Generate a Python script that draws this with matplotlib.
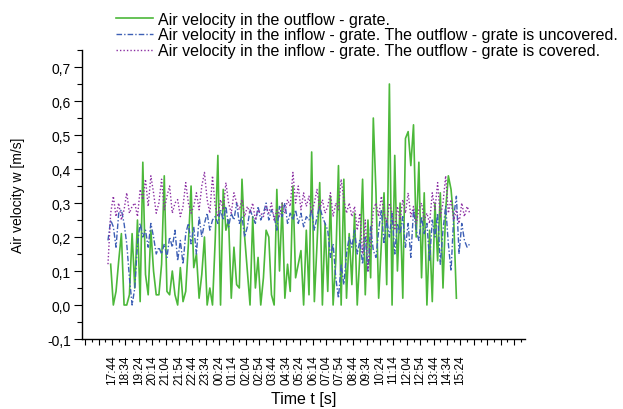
import numpy as np
import matplotlib
matplotlib.use("Agg")
import matplotlib.pyplot as plt
from matplotlib.ticker import FuncFormatter, MultipleLocator

plt.rcParams['font.family'] = ['Liberation Sans', 'DejaVu Sans']

# time axis: minutes after 17:44, samples every 10 min
STEP = 10
GREEN_START = -5
INFLOW_START = -15

tick_labels = ['17:44', '18:34', '19:24', '20:14', '21:04', '21:54', '22:44',
               '23:34', '00:24', '01:14', '02:04', '02:54', '03:44', '04:34',
               '05:24', '06:14', '07:04', '07:54', '08:44', '09:34', '10:24',
               '11:14', '12:04', '12:54', '13:44', '14:34', '15:24']

# Air velocity in the outflow - grate
outflow = [
    0.12, 0.00, 0.04, 0.13, 0.21, 0.00, 0.00, 0.03, 0.21, 0.05,
    0.25, 0.01, 0.42, 0.09, 0.03, 0.22, 0.10, 0.03, 0.03, 0.12,
    0.38, 0.04, 0.03, 0.10, 0.03, 0.00, 0.11, 0.01, 0.04, 0.18,
    0.35, 0.11, 0.15, 0.02, 0.09, 0.20, 0.00, 0.05, 0.00, 0.19,
    0.44, 0.00, 0.34, 0.22, 0.25, 0.02, 0.17, 0.06, 0.05, 0.37,
    0.20, 0.10, 0.00, 0.26, 0.05, 0.14, 0.00, 0.08, 0.22, 0.20,
    0.03, 0.00, 0.34, 0.10, 0.30, 0.02, 0.12, 0.04, 0.35, 0.08,
    0.12, 0.16, 0.00, 0.22, 0.03, 0.45, 0.01, 0.18, 0.36, 0.00,
    0.24, 0.04, 0.32, 0.00, 0.13, 0.41, 0.00, 0.37, 0.02, 0.21,
    0.06, 0.27, 0.00, 0.15, 0.37, 0.03, 0.25, 0.08, 0.55, 0.33,
    0.02, 0.18, 0.33, 0.06, 0.65, 0.00, 0.44, 0.10, 0.30, 0.02,
    0.49, 0.51, 0.41, 0.53, 0.20, 0.42, 0.08, 0.33, 0.00, 0.22,
    0.01, 0.30, 0.13, 0.33, 0.05, 0.28, 0.38, 0.34, 0.25, 0.02,
]

# Air velocity in the inflow - grate, outflow uncovered
inflow_open = [
    0.19, 0.25, 0.23, 0.17, 0.27, 0.28, 0.24, 0.18, 0.08, 0.00,
    0.05, 0.18, 0.24, 0.20, 0.22, 0.17, 0.24, 0.20, 0.15, 0.17,
    0.15, 0.18, 0.14, 0.20, 0.17, 0.22, 0.13, 0.19, 0.12, 0.21,
    0.24, 0.18, 0.23, 0.15, 0.26, 0.20, 0.24, 0.27, 0.22, 0.25,
    0.26, 0.24, 0.28, 0.25, 0.29, 0.23, 0.27, 0.25, 0.30, 0.24,
    0.26, 0.20, 0.23, 0.28, 0.26, 0.24, 0.29, 0.25, 0.27, 0.30,
    0.25, 0.28, 0.26, 0.22, 0.29, 0.26, 0.30, 0.24, 0.27, 0.25,
    0.28, 0.24, 0.27, 0.23, 0.26, 0.25, 0.28, 0.22, 0.26, 0.29,
    0.26, 0.24, 0.22, 0.14, 0.18, 0.08, 0.02, 0.12, 0.06, 0.15,
    0.20, 0.17, 0.22, 0.15, 0.19, 0.12, 0.20, 0.10, 0.23, 0.16,
    0.14, 0.22, 0.28, 0.18, 0.25, 0.20, 0.27, 0.15, 0.24, 0.21,
    0.26, 0.17, 0.24, 0.14, 0.28, 0.22, 0.19, 0.26, 0.21, 0.24,
    0.13, 0.25, 0.20, 0.27, 0.12, 0.22, 0.29, 0.18, 0.10, 0.26,
    0.32, 0.15, 0.24, 0.19, 0.17, 0.18,
]

# Air velocity in the inflow - grate, outflow covered
inflow_closed = [
    0.12, 0.27, 0.32, 0.26, 0.30, 0.25, 0.28, 0.33, 0.27, 0.29,
    0.30, 0.26, 0.34, 0.31, 0.37, 0.29, 0.38, 0.33, 0.27, 0.30,
    0.37, 0.28, 0.32, 0.35, 0.27, 0.30, 0.31, 0.26, 0.29, 0.36,
    0.30, 0.27, 0.29, 0.33, 0.28, 0.35, 0.39, 0.31, 0.27, 0.38,
    0.29, 0.26, 0.31, 0.28, 0.36, 0.30, 0.27, 0.33, 0.30, 0.28,
    0.31, 0.26, 0.29, 0.27, 0.30, 0.25, 0.28, 0.27, 0.26, 0.29,
    0.27, 0.30, 0.25, 0.28, 0.26, 0.30, 0.27, 0.31, 0.29, 0.39,
    0.30, 0.35, 0.28, 0.33, 0.29, 0.32, 0.27, 0.30, 0.34, 0.28,
    0.31, 0.27, 0.29, 0.33, 0.26, 0.30, 0.28, 0.37, 0.31, 0.27,
    0.30, 0.26, 0.29, 0.22, 0.27, 0.15, 0.25, 0.10, 0.18, 0.28,
    0.30, 0.26, 0.32, 0.27, 0.24, 0.30, 0.27, 0.22, 0.29, 0.25,
    0.31, 0.27, 0.33, 0.26, 0.29, 0.24, 0.28, 0.30, 0.25, 0.27,
    0.24, 0.33, 0.28, 0.36, 0.26, 0.30, 0.38, 0.27, 0.31, 0.25,
    0.28, 0.24, 0.30, 0.26, 0.29, 0.27,
]

t_out = GREEN_START + STEP * np.arange(len(outflow))
t_in = INFLOW_START + STEP * np.arange(len(inflow_open))

fig = plt.figure(figsize=(6.23, 4.10), dpi=100)
ax = fig.add_axes([0.1316, 0.1707, 0.7111, 0.7049])

ax.plot(t_out, outflow, color='#4cb83a', lw=1.2,
        label='Air velocity in the outflow - grate.')
ax.plot(t_in, inflow_open, color='#3d5fb5', lw=1.0, linestyle=(0, (4, 1.5, 1, 1.5)),
        label='Air velocity in the inflow - grate. The outflow - grate is uncovered.')
ax.plot(t_in, inflow_closed, color='#8b2fa3', lw=1.0, linestyle=(0, (1, 1.5)),
        label='Air velocity in the inflow - grate. The outflow - grate is covered.')

ax.set_xlim(-112, 1541)
ax.set_ylim(-0.1, 0.75)

for s in ['top', 'right']:
    ax.spines[s].set_visible(False)
ax.spines['left'].set_linewidth(1.0)
ax.spines['bottom'].set_linewidth(1.0)

major = np.arange(-100, 1541, 50)
labels = []
for m in major:
    k = int(m // 50)
    labels.append(tick_labels[k] if 0 <= k < len(tick_labels) else '')
ax.set_xticks(major)
ax.set_xticklabels(labels, rotation=90, fontsize=8.5)
ax.xaxis.set_minor_locator(MultipleLocator(25))
ax.tick_params(axis='x', which='major', length=4, width=0.8, pad=7, direction='out')
ax.tick_params(axis='x', which='minor', length=2.5, width=0.8, direction='out')

ax.yaxis.set_major_locator(MultipleLocator(0.1))
ax.yaxis.set_minor_locator(MultipleLocator(0.05))
ax.yaxis.set_major_formatter(FuncFormatter(lambda v, p: f"{v:.1f}".replace('.', ',')))
ax.tick_params(axis='y', which='major', length=6, width=0.8, labelsize=10, pad=2)
ax.tick_params(axis='y', which='minor', length=3.5, width=0.8)

ax.set_xlabel('Time t [s]', fontsize=11.5, labelpad=5)
ax.set_ylabel('Air velocity w [m/s]', fontsize=10, labelpad=16)

leg = fig.legend(loc='upper left', bbox_to_anchor=(0.176, 0.985), frameon=False,
                 fontsize=11.5, handlelength=2.3, handletextpad=0.3,
                 labelspacing=0.05, borderaxespad=0)

fig.savefig('out.png', dpi=100)
